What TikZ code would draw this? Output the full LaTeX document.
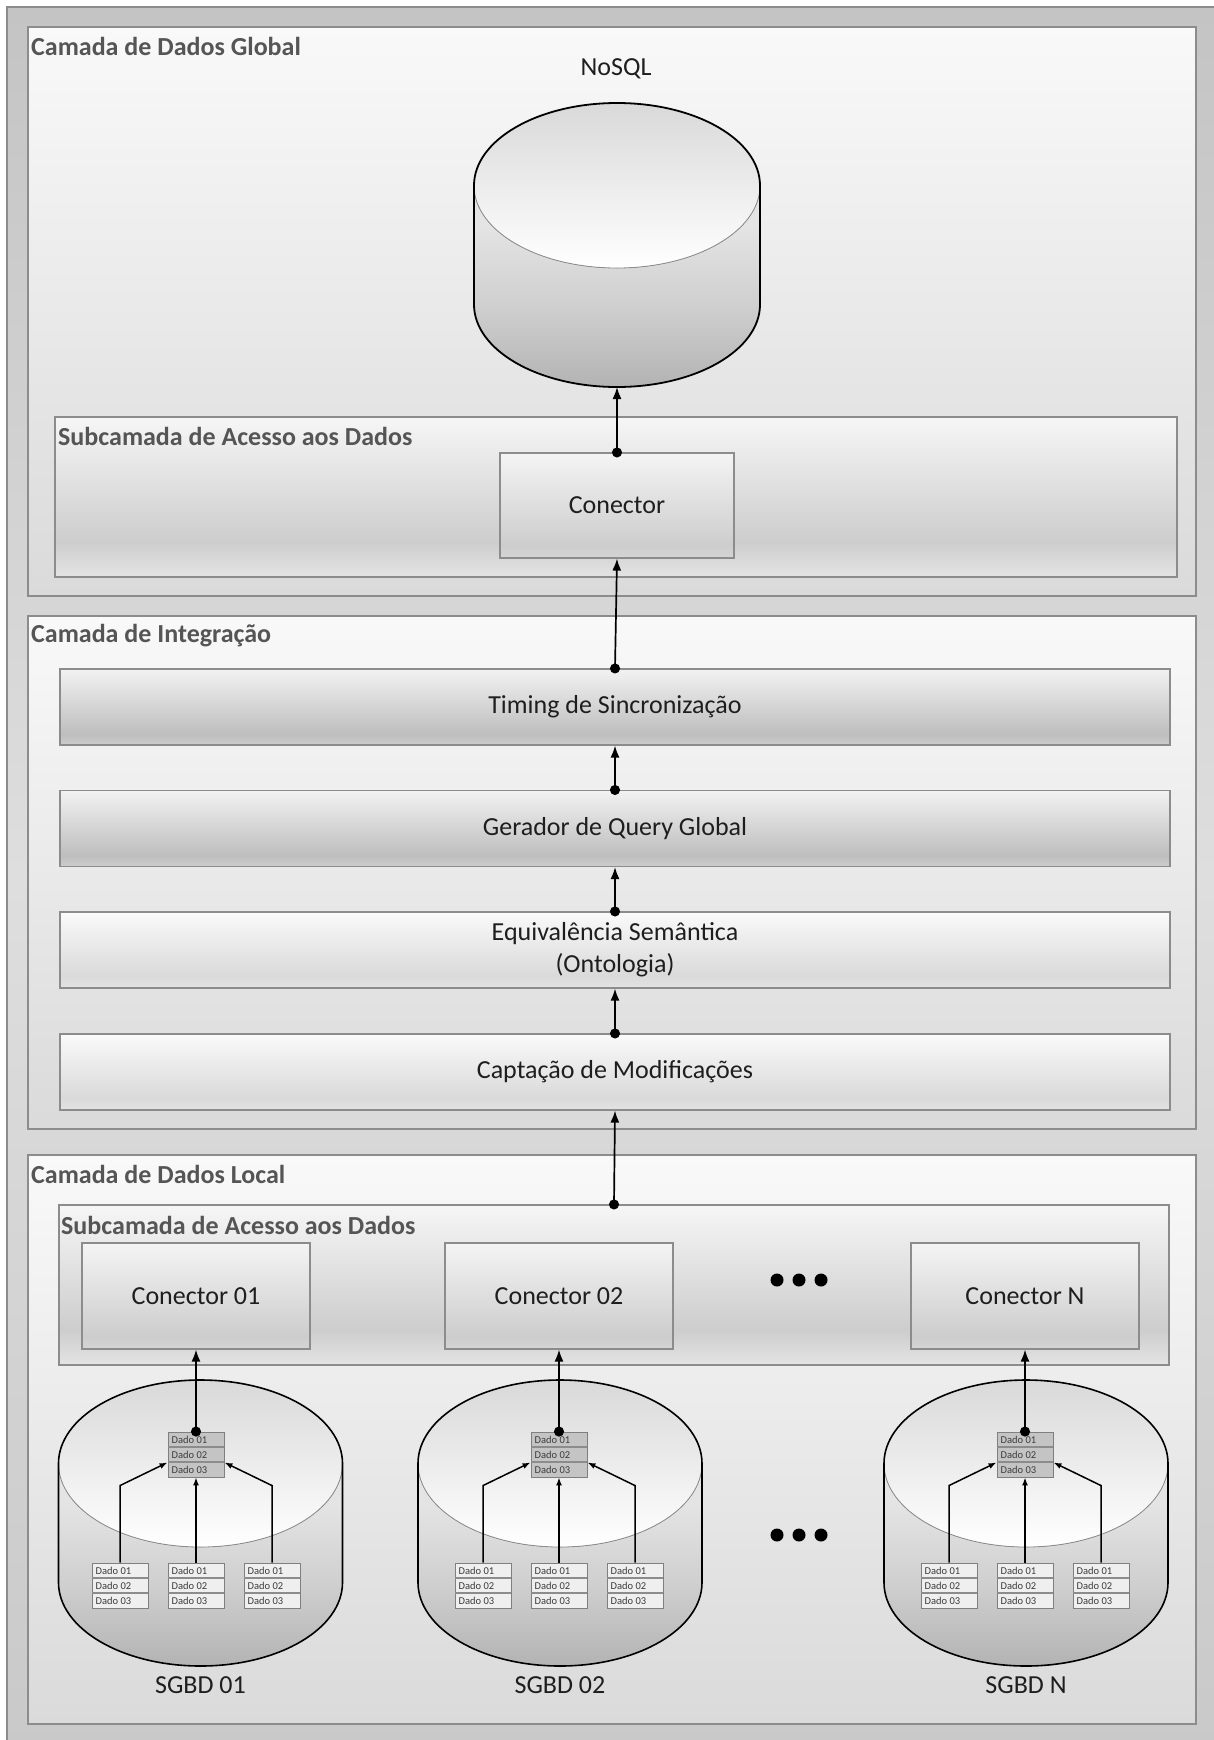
\documentclass[tikz,border=0pt]{standalone}
\usepackage{fontspec}
\setmainfont{Carlito}
\usetikzlibrary{arrows.meta}
\definecolor{ttl}{HTML}{555555}
\definecolor{txt}{HTML}{1E1E1E}
\definecolor{edge}{HTML}{8C8C8C}
\definecolor{oT}{HTML}{C4C4C4}\definecolor{oM}{HTML}{DEDEDE}\definecolor{oB}{HTML}{C9C9C9}
\pgfdeclareverticalshading{outershade}{100bp}{color(0bp)=(oB); color(25bp)=(oB); color(50bp)=(oM); color(75bp)=(oT); color(100bp)=(oT)}
\definecolor{lT}{HTML}{F9F9F9}\definecolor{lB}{HTML}{DADADA}
\pgfdeclareverticalshading{layershade}{100bp}{color(0bp)=(lB); color(25bp)=(lB); color(75bp)=(lT); color(100bp)=(lT)}
\definecolor{dT}{HTML}{F2F2F2}\definecolor{dM}{HTML}{BEBEBE}\definecolor{dB}{HTML}{CDCDCD}
\pgfdeclareverticalshading{darkbar}{100bp}{color(0bp)=(dB); color(25bp)=(dB); color(32bp)=(dM); color(75bp)=(dT); color(100bp)=(dT)}
\definecolor{bT}{HTML}{FAFAFA}\definecolor{bM}{HTML}{DADADA}\definecolor{bB}{HTML}{E3E3E3}
\pgfdeclareverticalshading{lightbar}{100bp}{color(0bp)=(bB); color(25bp)=(bB); color(33bp)=(bM); color(75bp)=(bT); color(100bp)=(bT)}
\definecolor{sT}{HTML}{F6F6F6}\definecolor{sM}{HTML}{CDCDCD}\definecolor{sB}{HTML}{E4E4E4}
\pgfdeclareverticalshading{subshade}{100bp}{color(0bp)=(sB); color(25bp)=(sB); color(36bp)=(sM); color(75bp)=(sT); color(100bp)=(sT)}
\definecolor{cT}{HTML}{F4F4F4}\definecolor{cM}{HTML}{CDCDCD}\definecolor{cB}{HTML}{D5D5D5}
\pgfdeclareverticalshading{conshade}{100bp}{color(0bp)=(cB); color(25bp)=(cB); color(31bp)=(cM); color(75bp)=(cT); color(100bp)=(cT)}
\definecolor{ytT}{HTML}{D9D9D9}\definecolor{ytB}{HTML}{FFFFFF}
\pgfdeclareverticalshading{cyltop}{100bp}{color(0bp)=(ytB); color(25bp)=(ytB); color(75bp)=(ytT); color(100bp)=(ytT)}
\definecolor{ysT}{HTML}{E4E4E4}\definecolor{ysM}{HTML}{CFCFCF}\definecolor{ysB}{HTML}{B3B3B3}
\pgfdeclareverticalshading{cylside}{100bp}{color(0bp)=(ysB); color(25bp)=(ysB); color(45bp)=(ysM); color(65bp)=(ysT); color(75bp)=(ysT); color(100bp)=(ysT)}
\definecolor{tabdark}{HTML}{C4C4C4}
\definecolor{tablight}{HTML}{EFEFEF}
\definecolor{tabedge}{HTML}{7F7F7F}
\definecolor{dadoc}{HTML}{3C3C3C}

\newcommand\mytab[4]{%
  \node[#4] (#1) at ({#2},{-(#3)-22.5}) {};
  \draw[rowline] ({#2-28},{-(#3)-15}) -- ++(56,0);
  \draw[rowline] ({#2-28},{-(#3)-30}) -- ++(56,0);
  \node[dadotxt] at ({#2-24.5},{-(#3)-7.5}) {Dado 01};
  \node[dadotxt] at ({#2-24.5},{-(#3)-22.5}) {Dado 02};
  \node[dadotxt] at ({#2-24.5},{-(#3)-37.5}) {Dado 03};
}
\newcommand\mycyl[7]{% cx, cytop, cybot, rx, ry, lw, name
  \fill[shade, shading=cylside] ({#1-#4},{-(#2)}) -- ({#1-#4},{-(#3)})
    arc[start angle=180,end angle=360,x radius=#4,y radius=#5] -- ({#1+#4},{-(#2)})
    arc[start angle=0,end angle=-180,x radius=#4,y radius=#5] -- cycle;
  \fill[shade, shading=cyltop] ({#1},{-(#2)}) ellipse[x radius=#4,y radius=#5];
  \draw[black!45, line width=0.8pt] ({#1-#4},{-(#2)}) arc[start angle=180,end angle=360,x radius=#4,y radius=#5];
  \draw[black, line width=#6] ({#1-#4},{-(#3)}) -- ({#1-#4},{-(#2)})
    arc[start angle=180,end angle=0,x radius=#4,y radius=#5] -- ({#1+#4},{-(#3)})
    arc[start angle=0,end angle=-180,x radius=#4,y radius=#5] -- cycle;
  \coordinate (#7) at ({#1},{-(#3)-(#5)});
}

\begin{document}
\begin{tikzpicture}[x=1pt,y=1pt,
  every node/.style={font=\fontsize{26}{32}\selectfont, text=txt},
  boxbase/.style={draw=edge, line width=1.2pt, shade, inner sep=0pt},
  layerbox/.style={boxbase, shading=layershade, minimum width=1168pt},
  subbox/.style={boxbase, shading=subshade, line width=1.1pt},
  conbox/.style={boxbase, shading=conshade, line width=1.1pt},
  darkbarbox/.style={boxbase, shading=darkbar, minimum width=1110pt, minimum height=76pt, line width=1.1pt},
  lightbarbox/.style={boxbase, shading=lightbar, minimum width=1110pt, minimum height=76pt, line width=1.1pt, align=center},
  ttlstyle/.style={font=\bfseries\fontsize{26}{31}\selectfont, text=ttl, inner sep=0pt, anchor=west},
  tabtop/.style={draw=tabedge, fill=tabdark, line width=0.9pt, minimum width=56pt, minimum height=45pt, inner sep=0pt},
  tabbot/.style={draw=tabedge, fill=tablight, line width=0.9pt, minimum width=56pt, minimum height=45pt, inner sep=0pt},
  rowline/.style={draw=black!45, line width=1.1pt},
  dadotxt/.style={font=\fontsize{10.5}{12}\selectfont, text=dadoc, inner sep=0pt, anchor=west},
  bigarrow/.style={draw=black, line width=1.7pt, {Circle[length=10pt]}-{Latex[length=12pt,width=9pt]}, shorten <=-5pt},
  smallarrow/.style={draw=black, line width=1.5pt, -{Latex[length=8pt,width=6pt]}},
  dotfill/.style={fill=black}
]
\useasboundingbox (0,0) rectangle (1213,-1740);
% outer frame
\path[shade, shading=outershade, draw=edge, line width=1.3pt] (7,-7) rectangle (1222,-1750);

% layers
\node[layerbox, minimum height=569pt] (layer1) at (612,-311.5) {};
\node[layerbox, minimum height=513pt] (layer2) at (612,-872.5) {};
\node[layerbox, minimum height=569pt] (layer3) at (612,-1439.5) {};
\node[ttlstyle] (t1) at (31,-46.5) {Camada de Dados Global};
\node[ttlstyle] (t2) at (31,-636) {Camada de Integração};
\node[ttlstyle] (t3) at (31,-1174) {Camada de Dados Local};

% global layer
\node (nosqllbl) at (616,-69) {NoSQL};
\mycyl{617}{185.5}{304.5}{143}{82.5}{1.8pt}{nosqlbot}
\node[subbox, minimum width=1122pt, minimum height=160pt] (subglobal) at (616,-497) {};
\node[ttlstyle] (st1) at (58,-436) {Subcamada de Acesso aos Dados};
\node[conbox, minimum width=234pt, minimum height=105pt] (conector) at (617,-505.5) {Conector};

% integration layer
\node[darkbarbox] (timing) at (615,-707) {Timing de Sincronização};
\node[darkbarbox] (gerador) at (615,-828.5) {Gerador de Query Global};
\node[lightbarbox] (equiv) at (615,-950) {Equivalência Semântica\\(Ontologia)};
\node[lightbarbox] (capt) at (615,-1072) {Captação de Modificações};

% local layer
\node[subbox, minimum width=1110pt, minimum height=160pt] (sublocal) at (614,-1285) {};
\node[ttlstyle] (st2) at (61,-1225) {Subcamada de Acesso aos Dados};
\node[conbox, minimum width=228pt, minimum height=106pt] (cona) at (196,-1296) {Conector 01};
\node[conbox, minimum width=228pt, minimum height=106pt] (conb) at (559,-1296) {Conector 02};
\node[conbox, minimum width=228pt, minimum height=106pt] (conc) at (1025,-1296) {Conector N};
\foreach \x in {777,799,821} {
  \fill[dotfill] (\x,-1280) circle (6.5);
  \fill[dotfill] (\x,-1535) circle (6.5);
}

\foreach \cc/\tc/\n/\lab in {200.5/196/a/01, 560/559/b/02, 1026/1025/c/N} {
  \mycyl{\cc}{1463.5}{1582.5}{142}{83.5}{1.6pt}{cylbot\n}
  \node (sgbd\n) at (\cc,-1685) {SGBD \lab};
  \mytab{top\n}{\tc}{1432}{tabtop}
  \mytab{bl\n}{\tc-76}{1563}{tabbot}
  \mytab{bm\n}{\tc}{1563}{tabbot}
  \mytab{br\n}{\tc+76}{1563}{tabbot}
  \draw[smallarrow] (bm\n.north) -- (top\n.south);
  \draw[smallarrow] (bl\n.north) -- ++(0,77) -- ([yshift=15pt]top\n.south west);
  \draw[smallarrow] (br\n.north) -- ++(0,77) -- ([yshift=15pt]top\n.south east);
  \draw[bigarrow] (top\n.north) -- (con\n.south);
}

% main arrows
\draw[bigarrow] (conector.north) -- (nosqlbot);
\draw[bigarrow] (timing.north) -- (conector.south);
\draw[bigarrow] (gerador.north) -- (timing.south);
\draw[bigarrow] (equiv.north) -- (gerador.south);
\draw[bigarrow] (capt.north) -- (equiv.south);
\draw[bigarrow] (sublocal.north) -- (capt.south);
\end{tikzpicture}
\end{document}
